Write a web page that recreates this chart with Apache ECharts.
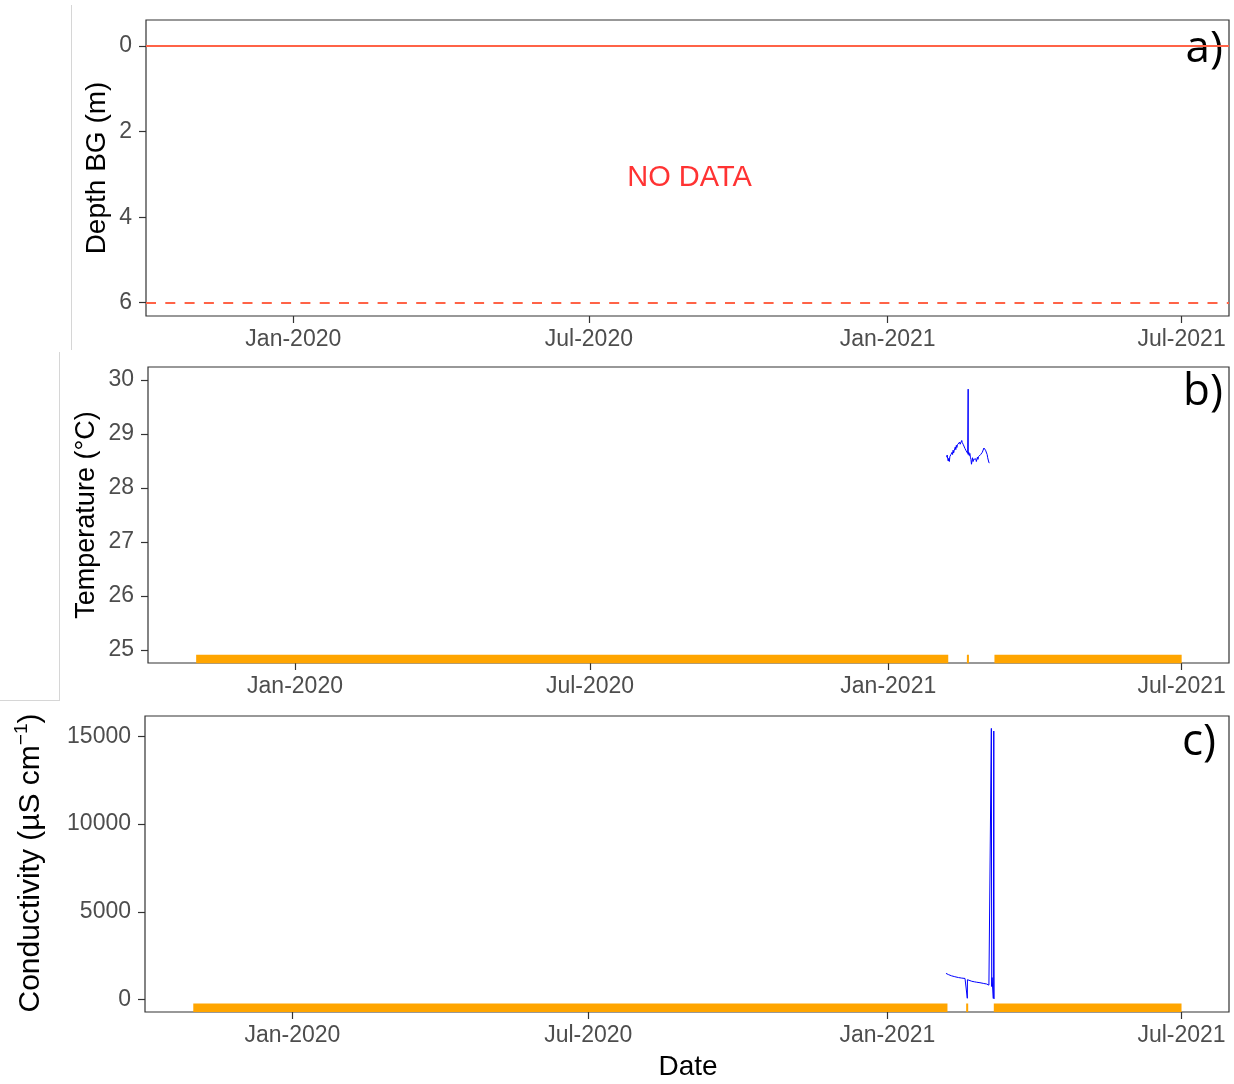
<!DOCTYPE html>
<html>
<head>
<meta charset="utf-8">
<script src="https://cdn.jsdelivr.net/npm/echarts@6/dist/echarts.min.js"></script>
<style>
html,body{margin:0;padding:0;background:#fff;}
#chart{width:1234px;height:1084px;}
</style>
</head>
<body>
<div id="chart"></div>
<script>
// ---------- data ----------
const xTickDates = ['2020-01-01 00:00', '2020-07-01 00:00', '2021-01-01 00:00', '2021-07-01 00:00'];
const xTickLabels = ['Jan-2020', 'Jul-2020', 'Jan-2021', 'Jul-2021'];

const depthTicks = [0, 2, 4, 6];
const tempTicks = [25, 26, 27, 28, 29, 30];
const condTicks = [0, 5000, 10000, 15000];

// panel a reference depths (solid top, dashed bottom)
const refDepthTop = 0;
const refDepthBottom = 6;
const noDataPoint = ['2020-09-01 00:00', 3.08];

// missing-data bars (start, end)
const gapSegments = [
  ['2019-11-01 00:00', '2021-02-07 00:00'],
  ['2021-02-18 12:00', '2021-02-19 18:00'],
  ['2021-03-07 12:00', '2021-07-01 00:00']
];
const gapLevelTemp = 24.835;
const gapLevelCond = -467;

const tempTimes = [
  '2021-02-06 00:00','2021-02-06 08:00','2021-02-06 16:00',
  '2021-02-07 00:00','2021-02-07 08:00','2021-02-07 16:00',
  '2021-02-08 00:00','2021-02-08 08:00','2021-02-08 16:00',
  '2021-02-09 00:00','2021-02-09 08:00','2021-02-09 16:00',
  '2021-02-10 00:00','2021-02-10 08:00','2021-02-10 16:00',
  '2021-02-11 00:00','2021-02-11 08:00','2021-02-11 16:00',
  '2021-02-12 00:00','2021-02-12 08:00','2021-02-12 16:00',
  '2021-02-13 00:00','2021-02-13 08:00','2021-02-13 16:00',
  '2021-02-14 00:00','2021-02-14 08:00','2021-02-14 16:00',
  '2021-02-15 00:00','2021-02-15 08:00','2021-02-15 16:00',
  '2021-02-16 00:00','2021-02-16 08:00','2021-02-16 16:00',
  '2021-02-17 00:00','2021-02-17 08:00','2021-02-17 16:00',
  '2021-02-18 00:00','2021-02-18 08:00','2021-02-18 16:00',
  '2021-02-19 00:00','2021-02-19 07:00','2021-02-19 08:00','2021-02-19 16:00',
  '2021-02-20 00:00','2021-02-20 08:00','2021-02-20 16:00',
  '2021-02-21 00:00','2021-02-21 08:00','2021-02-21 16:00',
  '2021-02-22 00:00','2021-02-22 08:00','2021-02-22 16:00',
  '2021-02-23 00:00','2021-02-23 08:00','2021-02-23 16:00',
  '2021-02-24 00:00','2021-02-24 08:00','2021-02-24 16:00',
  '2021-02-25 00:00','2021-02-25 08:00','2021-02-25 16:00',
  '2021-02-26 00:00','2021-02-26 08:00','2021-02-26 16:00',
  '2021-02-27 00:00','2021-02-27 08:00','2021-02-27 16:00',
  '2021-02-28 00:00','2021-02-28 08:00','2021-02-28 16:00',
  '2021-03-01 00:00','2021-03-01 08:00','2021-03-01 16:00',
  '2021-03-02 00:00','2021-03-02 08:00','2021-03-02 16:00',
  '2021-03-03 00:00','2021-03-03 08:00','2021-03-03 16:00',
  '2021-03-04 00:00','2021-03-04 08:00'
];
const tempValues = [
  28.57, 28.61, 28.54,
  28.50, 28.55, 28.49,
  28.58, 28.55, 28.62,
  28.60, 28.66, 28.62,
  28.70, 28.65, 28.69,
  28.72, 28.76, 28.71,
  28.79, 28.75, 28.80,
  28.78, 28.83, 28.80,
  28.85, 28.81, 28.84,
  28.82, 28.88, 28.84,
  28.86, 28.80, 28.83,
  28.77, 28.73, 28.76,
  28.69, 28.66, 28.70,
  28.64, 29.83, 28.62, 28.66,
  28.60, 28.64, 28.57,
  28.53, 28.44, 28.50,
  28.56, 28.49, 28.53,
  28.51, 28.56, 28.50,
  28.54, 28.49, 28.53,
  28.57, 28.53, 28.58,
  28.55, 28.60, 28.57,
  28.62, 28.59, 28.64,
  28.66, 28.63, 28.69,
  28.74, 28.71, 28.76,
  28.70, 28.67, 28.72,
  28.62, 28.56, 28.53,
  28.48, 28.46
];

const condTimes = [
  '2021-02-06 02:00','2021-02-06 19:00','2021-02-07 14:00','2021-02-08 12:00','2021-02-09 12:00',
  '2021-02-10 12:00','2021-02-11 12:00','2021-02-12 17:00','2021-02-13 19:00','2021-02-14 19:00',
  '2021-02-15 19:00','2021-02-16 17:00','2021-02-17 19:00','2021-02-18 19:00','2021-02-19 02:00',
  '2021-02-19 05:00','2021-02-19 07:00','2021-02-19 14:00','2021-02-20 12:00','2021-02-21 22:00',
  '2021-02-23 12:00','2021-02-25 00:00','2021-02-27 00:00','2021-03-01 00:00','2021-03-03 02:00',
  '2021-03-04 12:00','2021-03-05 12:00','2021-03-05 19:00','2021-03-06 00:00','2021-03-06 05:00',
  '2021-03-06 10:00','2021-03-06 22:00','2021-03-07 05:00','2021-03-07 12:00','2021-03-07 17:00'
];
const condValues = [
  1490,1450,1420,1380,1350,
  1320,1300,1280,1250,1230,
  1220,1210,1200,1185,1180,
  70,1130,1110,1070,1040,
  1010,985,957,920,883,
  820,770,745,15450,740,
  1250,1230,60,15300,30
];

// ---------- helpers ----------
function ts(s) { return Date.parse(s.replace(' ', 'T') + ':00Z'); }
const xTickVals = xTickDates.map(ts);
function fmtDate(v) { const k = xTickVals.indexOf(v); return k >= 0 ? xTickLabels[k] : ''; }

const xMin = ts('2019-10-02 07:00');
const xMax = ts('2021-07-30 05:00');

function gapData(level) {
  const out = [];
  gapSegments.forEach((seg, i) => {
    if (i > 0) out.push([ts(seg[0]) - 1, null]);
    out.push([ts(seg[0]), level]);
    out.push([ts(seg[1]), level]);
  });
  return out;
}

const FONT = "'Liberation Sans', Arial, sans-serif";
const TICK_COLOR = '#4D4D4D';
const AX_COLOR = '#333333';

const grids = [
  {left: 146, top: 20, width: 1083, height: 296},
  {left: 148, top: 367, width: 1081, height: 296},
  {left: 145, top: 716, width: 1084, height: 296}
];

function xAxisFor(i) {
  return {
    type: 'value', gridIndex: i, min: xMin, max: xMax, position: 'bottom',
    axisLine: {show: false, onZero: false},
    splitLine: {show: false},
    axisTick: {show: true, length: 7, lineStyle: {color: AX_COLOR, width: 1.2}, customValues: xTickVals},
    axisLabel: {color: TICK_COLOR, fontSize: 23, fontFamily: FONT, margin: 12,
      customValues: xTickVals, formatter: v => fmtDate(v)}
  };
}
function yAxisFor(i, min, max, ticks, inverse) {
  return {
    type: 'value', gridIndex: i, min: min, max: max, inverse: !!inverse, position: 'left',
    axisLine: {show: false, onZero: false},
    splitLine: {show: false},
    axisTick: {show: true, length: 7, lineStyle: {color: AX_COLOR, width: 1.2}, customValues: ticks},
    axisLabel: {color: TICK_COLOR, fontSize: 23, fontFamily: FONT, margin: 14, customValues: ticks,
      formatter: v => String(v)}
  };
}

const chart = echarts.init(document.getElementById('chart'), null, {renderer: 'canvas'});

const option = {
  backgroundColor: '#ffffff',
  animation: false,
  grid: grids.map(g => Object.assign({show: true, borderColor: AX_COLOR, borderWidth: 1.2, backgroundColor: 'transparent'}, g)),
  xAxis: [xAxisFor(0), xAxisFor(1), xAxisFor(2)],
  yAxis: [
    yAxisFor(0, -0.608, 6.31, depthTicks, true),
    yAxisFor(1, 24.76, 30.24, tempTicks),
    yAxisFor(2, -712, 16157, condTicks)
  ],
  series: [
    {
      type: 'line', xAxisIndex: 0, yAxisIndex: 0, data: [], silent: true,
      markLine: {
        symbol: 'none', silent: true, label: {show: false},
        data: [
          {yAxis: refDepthTop, lineStyle: {color: '#FF6347', width: 2, type: 'solid'}},
          {yAxis: refDepthBottom, lineStyle: {color: '#FF6347', width: 2, type: [10, 9.3]}}
        ]
      }
    },
    {
      type: 'scatter', xAxisIndex: 0, yAxisIndex: 0, symbolSize: 0, silent: true,
      data: [[ts(noDataPoint[0]), noDataPoint[1]]],
      label: {show: true, position: 'inside', formatter: 'NO DATA', color: '#FF0000', fontSize: 29, fontFamily: FONT}
    },
    {
      type: 'line', xAxisIndex: 1, yAxisIndex: 1, data: gapData(gapLevelTemp), showSymbol: false,
      connectNulls: false, lineStyle: {color: '#FFA500', width: 8.5, cap: 'butt'}, silent: true
    },
    {
      type: 'line', xAxisIndex: 1, yAxisIndex: 1, showSymbol: false,
      data: tempTimes.map((t, k) => [ts(t), tempValues[k]]),
      lineStyle: {color: '#0000FF', width: 1}, silent: true
    },
    {
      type: 'line', xAxisIndex: 2, yAxisIndex: 2, data: gapData(gapLevelCond), showSymbol: false,
      connectNulls: false, lineStyle: {color: '#FFA500', width: 8.5, cap: 'butt'}, silent: true
    },
    {
      type: 'line', xAxisIndex: 2, yAxisIndex: 2, showSymbol: false,
      data: condTimes.map((t, k) => [ts(t), condValues[k]]),
      lineStyle: {color: '#0000FF', width: 1}, silent: true
    }
  ],
  graphic: [
    // faint borders of pasted panels
    {type: 'line', shape: {x1: 71.5, y1: 5, x2: 71.5, y2: 350}, style: {stroke: '#d6d6d6', lineWidth: 1}, silent: true},
    {type: 'line', shape: {x1: 59.5, y1: 352, x2: 59.5, y2: 700}, style: {stroke: '#d6d6d6', lineWidth: 1}, silent: true},
    {type: 'line', shape: {x1: 0, y1: 700.5, x2: 60, y2: 700.5}, style: {stroke: '#d6d6d6', lineWidth: 1}, silent: true},
    // axis titles
    {type: 'text', x: 97, y: 168, rotation: Math.PI / 2, silent: true,
      style: {text: 'Depth BG (m)', fill: '#000', font: "28px 'Liberation Sans', Arial, sans-serif", textAlign: 'center', textVerticalAlign: 'middle'}},
    {type: 'text', x: 87, y: 515, rotation: Math.PI / 2, silent: true,
      style: {text: 'Temperature (°C)', fill: '#000', font: "27px 'Liberation Sans', Arial, sans-serif", textAlign: 'center', textVerticalAlign: 'middle'}},
    {type: 'text', x: 31, y: 863, rotation: Math.PI / 2, silent: true,
      style: {text: '{a|Conductivity (µS cm}{s|−1}{a|)}', textAlign: 'center', textVerticalAlign: 'middle',
        rich: {
          a: {fill: '#000', color: '#000', fontSize: 30, fontFamily: FONT, lineHeight: 38},
          s: {fill: '#000', color: '#000', fontSize: 19, fontFamily: FONT, verticalAlign: 'top', lineHeight: 38}
        }}},
    {type: 'text', x: 688, y: 1067, silent: true,
      style: {text: 'Date', fill: '#000', font: "28px 'Liberation Sans', Arial, sans-serif", textAlign: 'center', textVerticalAlign: 'middle'}},
    // panel labels
    {type: 'text', x: 1223, y: 49, silent: true,
      style: {text: 'a)', fill: '#000', font: "44px 'Open Sans', sans-serif", textAlign: 'right', textVerticalAlign: 'middle'}},
    {type: 'text', x: 1223, y: 392, silent: true,
      style: {text: 'b)', fill: '#000', font: "44px 'Open Sans', sans-serif", textAlign: 'right', textVerticalAlign: 'middle'}},
    {type: 'text', x: 1216, y: 742, silent: true,
      style: {text: 'c)', fill: '#000', font: "44px 'Open Sans', sans-serif", textAlign: 'right', textVerticalAlign: 'middle'}}
  ]
};

chart.setOption(option);
</script>
</body>
</html>
